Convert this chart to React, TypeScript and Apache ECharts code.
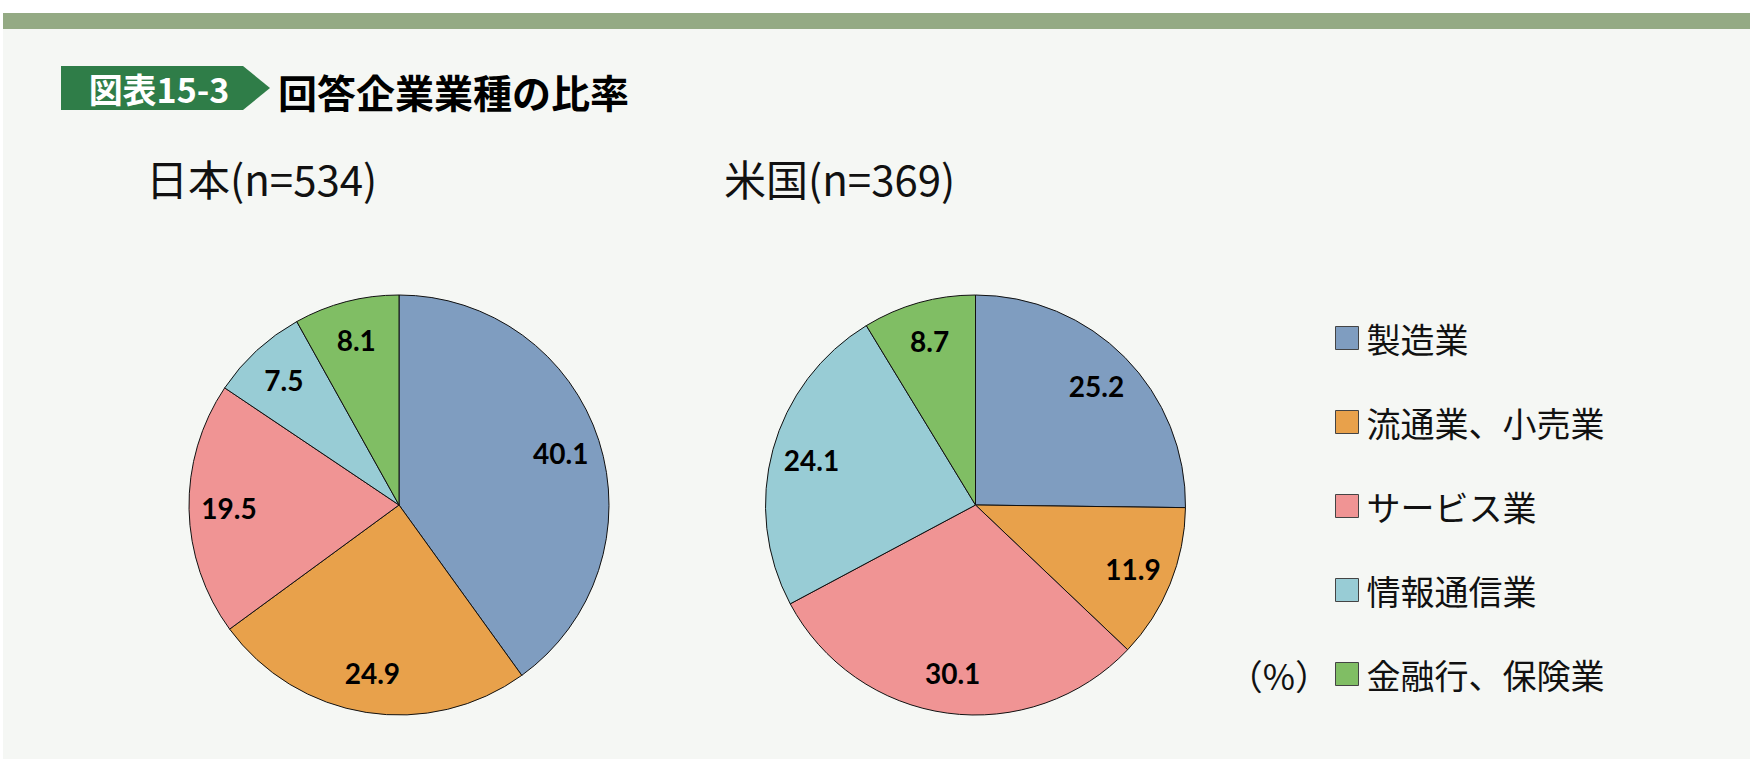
import React, { useEffect, useRef } from 'react';
import * as echarts from 'echarts';

const categories = ['製造業', '流通業、小売業', 'サービス業', '情報通信業', '金融行、保険業'];
const japanValues = [40.1, 24.9, 19.5, 7.5, 8.1];
const usValues = [25.2, 11.9, 30.1, 24.1, 8.7];
const pieTitles = ['日本(n=534)', '米国(n=369)'];
const figureTag = '図表15-3';
const figureTitle = '回答企業業種の比率';
const unitLabel = '（%）';
const sliceColors = ['#7f9dc0', '#e8a14b', '#f09494', '#98ccd5', '#80be64'];

const JP = '"Noto Sans CJK JP", "Noto Sans", sans-serif';

function buildData(values: number[]) {
  return categories.map((name, i) => ({ name, value: values[i], itemStyle: { color: sliceColors[i] } }));
}

function fillSeries(values: number[], center: [number, number]) {
  return {
    type: 'pie',
    center,
    radius: [0, 210],
    startAngle: 90,
    clockwise: true,
    silent: true,
    label: { show: false },
    labelLine: { show: false },
    itemStyle: { borderColor: '#111', borderWidth: 1 },
    emphasis: { disabled: true },
    data: buildData(values),
  };
}

function labelSeries(values: number[], center: [number, number]) {
  return {
    type: 'pie',
    center,
    radius: [124, 210],
    startAngle: 90,
    clockwise: true,
    silent: true,
    z: 3,
    itemStyle: { color: 'rgba(0,0,0,0)', borderWidth: 0 },
    label: {
      show: true,
      position: 'inside',
      formatter: (p: any) => p.value.toFixed(1),
      color: '#000',
      fontFamily: 'Lato, "Open Sans", sans-serif',
      fontWeight: 'bold',
      fontSize: 28,
    },
    labelLine: { show: false },
    emphasis: { disabled: true },
    data: categories.map((name, i) => ({ name, value: values[i] })),
  };
}

export default function App() {
  const ref = useRef<HTMLDivElement>(null);
  useEffect(() => {
    if (!ref.current) return;
    const chart = echarts.init(ref.current, null, { renderer: 'svg' });
    chart.setOption({
      animation: false,
      backgroundColor: '#ffffff',
      graphic: [
        { type: 'rect', z: 0, shape: { x: 3, y: 13, width: 1747, height: 746 }, style: { fill: '#f5f7f4' } },
        { type: 'rect', z: 0, shape: { x: 3, y: 13, width: 1747, height: 16 }, style: { fill: '#94aa84' } },
        {
          type: 'polygon', z: 0,
          shape: { points: [[61, 66], [243, 66], [270, 88], [243, 110], [61, 110]] },
          style: { fill: '#2f7d48' },
        },
        {
          type: 'text', z: 1, x: 159, y: 88,
          style: { text: figureTag, fill: '#fff', font: `bold 34px ${JP}`, textAlign: 'center', textVerticalAlign: 'middle' },
        },
        {
          type: 'text', z: 1, x: 278, y: 91,
          style: { text: figureTitle, fill: '#000', font: `bold 39px ${JP}`, textAlign: 'left', textVerticalAlign: 'middle' },
        },
        {
          type: 'text', z: 1, x: 146, y: 177,
          style: { text: pieTitles[0], fill: '#111', font: `normal 42px ${JP}`, textAlign: 'left', textVerticalAlign: 'middle' },
        },
        {
          type: 'text', z: 1, x: 724, y: 177,
          style: { text: pieTitles[1], fill: '#111', font: `normal 42px ${JP}`, textAlign: 'left', textVerticalAlign: 'middle' },
        },
        {
          type: 'text', z: 1, x: 1330, y: 674,
          style: { text: unitLabel, fill: '#111', font: `normal 35px ${JP}`, textAlign: 'right', textVerticalAlign: 'middle' },
        },
      ],
      legend: {
        data: categories,
        orient: 'vertical',
        left: 1335,
        top: 321,
        padding: 0,
        itemWidth: 23,
        itemHeight: 23,
        itemGap: 50,
        icon: 'rect',
        selectedMode: false,
        itemStyle: { borderColor: '#444', borderWidth: 1 },
        textStyle: { fontFamily: JP, fontSize: 34, lineHeight: 34, color: '#111', padding: [0, 0, 0, 3] },
      },
      series: [
        fillSeries(japanValues, [399, 505]),
        fillSeries(usValues, [975.5, 505]),
        labelSeries(japanValues, [399, 505]),
        labelSeries(usValues, [975.5, 505]),
      ],
    });
    return () => chart.dispose();
  }, []);
  return <div ref={ref} style={{ position: 'absolute', left: 0, top: 0, width: 1762, height: 766 }} />;
}
